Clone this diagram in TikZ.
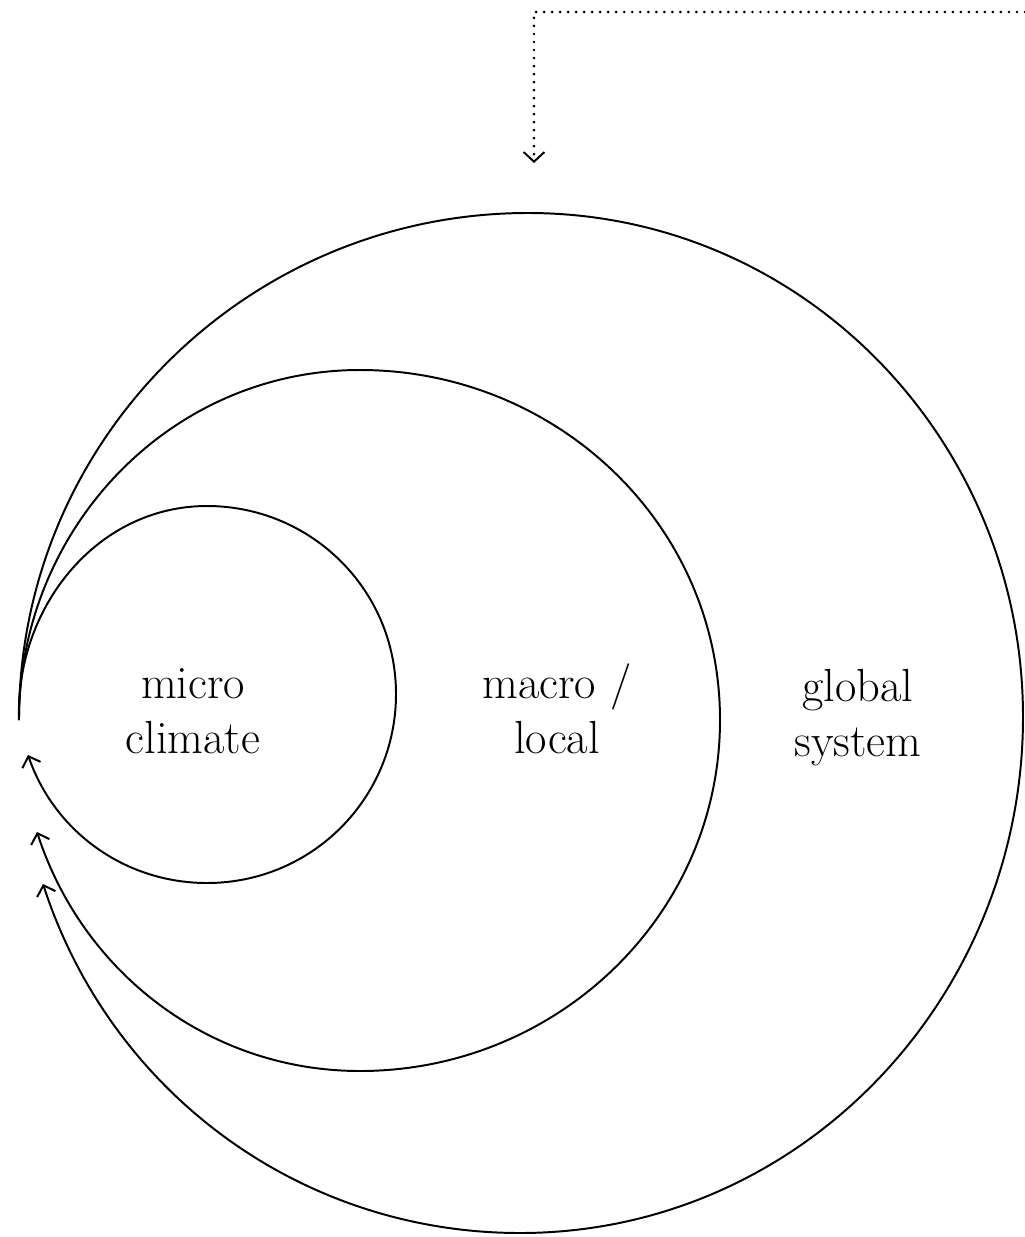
\documentclass[tikz,border=0pt]{standalone}
\usetikzlibrary{arrows.meta}
\begin{document}
\begin{tikzpicture}[x=0.025cm,y=-0.025cm,
  ring/.style={line width=1.4pt,-{Straight Barb[length=2.3mm,width=4.8mm,line width=1.4pt]}},
  feed/.style={line width=2.1pt,line cap=round,dash pattern=on 0pt off 5.7pt,
    -{Straight Barb[length=2.4mm,width=5.2mm,line width=1.4pt]}},
  lbl/.style={align=center,font=\fontsize{33}{39}\selectfont,inner sep=0pt}]
\useasboundingbox (0,0) rectangle (1025,1237);

% common origin of the three loops
\coordinate (s) at (19,720);

% micro climate loop
\coordinate (t1) at (207,506);
\coordinate (r1) at (396,694);
\coordinate (b1) at (207,883);
\coordinate (e1) at (28,755);
% macro / local loop
\coordinate (t2) at (360,370);
\coordinate (r2) at (720,720);
\coordinate (b2) at (360,1071);
\coordinate (e2) at (37,832);
% global system loop
\coordinate (t3) at (528,213);
\coordinate (r3) at (1023,717);
\coordinate (b3) at (520,1233);
\coordinate (e3) at (43,884);

\draw[ring] (s) to[out=92,in=180] (t1) to[out=0,in=90] (r1)
  to[out=-90,in=0] (b1) to[out=180,in=-71,looseness=0.95] (e1);
\draw[ring] (s) to[out=90,in=180] (t2) to[out=0,in=90] (r2)
  to[out=-90,in=0] (b2) to[out=180,in=-72,looseness=0.95] (e2);
\draw[ring] (s) to[out=90,in=180] (t3) to[out=0,in=90] (r3)
  to[out=-90,in=0] (b3) to[out=180,in=-72,looseness=0.95] (e3);

\node[lbl] (micro) at (193,711) {micro\\climate};
\node[lbl] (macro) at (557,709) {macro /\\local};
\node[lbl] (global) at (858,718) {global\\system};

% incoming dotted feed from the upper right
\coordinate (in) at (1025,12);
\coordinate (corner) at (534,12);
\coordinate (drop) at (534,163);
\draw[feed] (in) -- (corner) -- (drop);
\end{tikzpicture}
\end{document}
